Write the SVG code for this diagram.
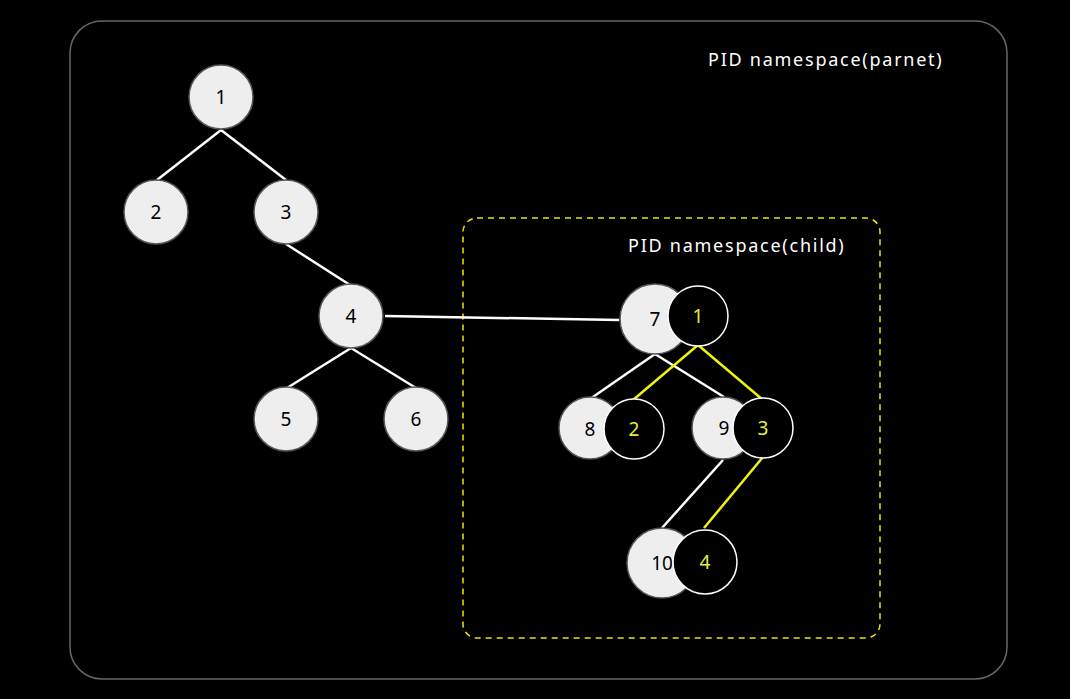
<svg xmlns="http://www.w3.org/2000/svg" width="1070" height="699" viewBox="0 0 1070 699">
<style>
  text { font-family: "Noto Sans", "Open Sans", "Liberation Sans", sans-serif; font-size: 19px; }
  .pnode { fill: #eeeeee; stroke: #555555; stroke-width: 1.5; }
  .cnode { fill: #000000; stroke: #ffffff; stroke-width: 1.5; }
  .plabel { fill: #000000; text-anchor: middle; dominant-baseline: central; }
  .clabel { fill: #e2f03c; text-anchor: middle; dominant-baseline: central; }
  .edge { stroke: #ffffff; stroke-width: 2.5; fill: none; }
  .yedge { stroke: #f2f20a; stroke-width: 2.5; fill: none; }
  .title { fill: #ffffff; font-size: 18px; letter-spacing: 1.75px; }
</style>
<rect x="0" y="0" width="1070" height="699" fill="#000000"/>
<g id="ns-parent">
  <rect x="70" y="21" width="937" height="658" rx="32" ry="32" fill="none" stroke="#666666" stroke-width="1.5"/>
  <text class="title" x="708" y="66">PID namespace(parnet)</text>
</g>
<g id="ns-child">
  <rect x="463" y="218" width="417" height="420" rx="14" ry="14" fill="none" stroke="#e6e60a" stroke-width="1.5" stroke-dasharray="6 5"/>
  <text class="title" x="628" y="252">PID namespace(child)</text>
</g>
<g id="connectors">
  <line class="edge" x1="221" y1="130" x2="157" y2="180"/>
  <line class="edge" x1="221" y1="130" x2="286" y2="180"/>
  <line class="edge" x1="286" y1="244" x2="350" y2="285"/>
  <line class="edge" x1="351" y1="348" x2="287" y2="388"/>
  <line class="edge" x1="351" y1="348" x2="416" y2="388"/>
  <line class="edge" x1="385" y1="316" x2="619" y2="320"/>
  <line class="edge" x1="655" y1="354" x2="590" y2="399"/>
  <line class="edge" x1="655" y1="354" x2="724" y2="397"/>
  <line class="edge" x1="723" y1="460" x2="662" y2="528"/>
  <line class="yedge" x1="698" y1="345" x2="633" y2="400"/>
  <line class="yedge" x1="698" y1="345" x2="763" y2="400"/>
  <line class="yedge" x1="763" y1="457" x2="704" y2="528"/>
</g>
<g id="node-1"><circle class="pnode" cx="221" cy="97" r="32"/><text class="plabel" x="221" y="97">1</text></g>
<g id="node-2"><circle class="pnode" cx="156" cy="212" r="32"/><text class="plabel" x="156" y="212">2</text></g>
<g id="node-3"><circle class="pnode" cx="286" cy="212" r="32"/><text class="plabel" x="286" y="212">3</text></g>
<g id="node-4"><circle class="pnode" cx="351" cy="316" r="32"/><text class="plabel" x="351" y="316">4</text></g>
<g id="node-5"><circle class="pnode" cx="286" cy="419" r="32"/><text class="plabel" x="286" y="419">5</text></g>
<g id="node-6"><circle class="pnode" cx="416" cy="419" r="32"/><text class="plabel" x="416" y="419">6</text></g>
<g id="node-7">
  <circle class="pnode" cx="655" cy="319" r="35"/><text class="plabel" x="655" y="319">7</text>
  <circle class="cnode" cx="698" cy="316" r="30"/><text class="clabel" x="698" y="316">1</text>
</g>
<g id="node-8">
  <circle class="pnode" cx="590" cy="428" r="31"/><text class="plabel" x="590" y="429">8</text>
  <circle class="cnode" cx="634" cy="429" r="30"/><text class="clabel" x="634" y="429">2</text>
</g>
<g id="node-9">
  <circle class="pnode" cx="723" cy="428" r="31"/><text class="plabel" x="724" y="428">9</text>
  <circle class="cnode" cx="763" cy="428" r="30"/><text class="clabel" x="763" y="428">3</text>
</g>
<g id="node-10">
  <circle class="pnode" cx="662" cy="563" r="35"/><text class="plabel" x="662" y="563">10</text>
  <circle class="cnode" cx="705" cy="562" r="32"/><text class="clabel" x="705" y="562">4</text>
</g>
</svg>
